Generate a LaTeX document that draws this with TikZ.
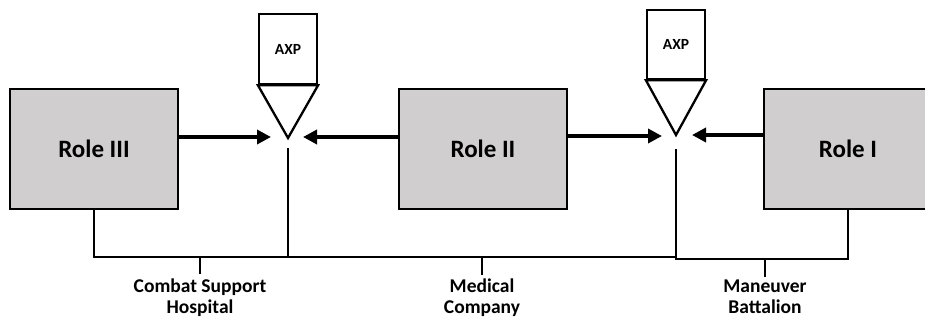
\documentclass[tikz,border=0pt]{standalone}
\usepackage{fontspec}
\setmainfont{Carlito}
\usetikzlibrary{arrows.meta}
\definecolor{rolegray}{RGB}{208,206,206}

\begin{document}
\begin{tikzpicture}
        [x=1pt,y=-1pt,
         role/.style={draw,line width=2.6pt,fill=rolegray,minimum width=168pt,minimum height=120pt,inner sep=0,font=\bfseries\fontsize{25}{30}\selectfont},
         axpbox/.style={draw,line width=2.3pt,fill=white,minimum width=58pt,inner sep=0,font=\bfseries\fontsize{15.5}{18}\selectfont},
         flow/.style={line width=4pt,-{Triangle[length=14pt,width=14pt]}},
         link/.style={line width=2pt},
         caption/.style={font=\bfseries\fontsize{19.5}{21}\selectfont,align=center,anchor=north,inner sep=0}]

        \useasboundingbox[fill=white] (0,0) rectangle (925,321);

        \node[role] (role3) at (94,149) {Role III};
        \node[role] (role2) at (483,149) {Role II};
        \node[role] (role1) at (848,149) {Role I};

        \node[axpbox,minimum height=70pt] (axpA) at (288,49) {AXP};
        \node[axpbox,minimum height=69pt] (axpB) at (676,44.5) {AXP};

        \coordinate (tipA) at (288,138);
        \coordinate (tipB) at (676,135);
        \coordinate (inA1) at (271,137);
        \coordinate (inA2) at (303,137);
        \coordinate (inB1) at (662,136);
        \coordinate (inB2) at (692,135);
        \coordinate (stemA) at (288,148);
        \coordinate (stemB) at (676,149);
        \coordinate (busA) at (288,257);
        \coordinate (busB) at (676,257);
        \coordinate (busC) at (676,259);

        \node[caption] (csh) at (200,279) {Combat Support\\Hospital};
        \node[caption] (medco) at (482,279) {Medical\\Company};
        \node[caption] (mnvr) at (765,280) {Maneuver\\Battalion};

        \draw[line width=2.3pt,line join=miter] (axpA.south west) -- (axpA.south east) -- (tipA) -- cycle;
        \draw[line width=2.3pt,line join=miter] (axpB.south west) -- (axpB.south east) -- (tipB) -- cycle;

        \draw[flow] ([yshift=12pt]role3.east) -- (inA1);
        \draw[flow] ([yshift=12pt]role2.west) -- (inA2);
        \draw[flow] ([yshift=13pt]role2.east) -- (inB1);
        \draw[flow] ([yshift=14pt]role1.west) -- (inB2);

        \draw[link] (role3.south) |- (busA);
        \draw[link] (stemA) -- (busA) -- (busB);
        \draw[link] (stemB) -- (busC) -| (role1.south);

        \draw[link] (csh.north |- busA) -- ([yshift=5pt]csh.north);
        \draw[link] (medco.north |- busA) -- ([yshift=4pt]medco.north);
        \draw[link] (mnvr.north |- busC) -- ([yshift=3pt]mnvr.north);

      \end{tikzpicture}
\end{document}
